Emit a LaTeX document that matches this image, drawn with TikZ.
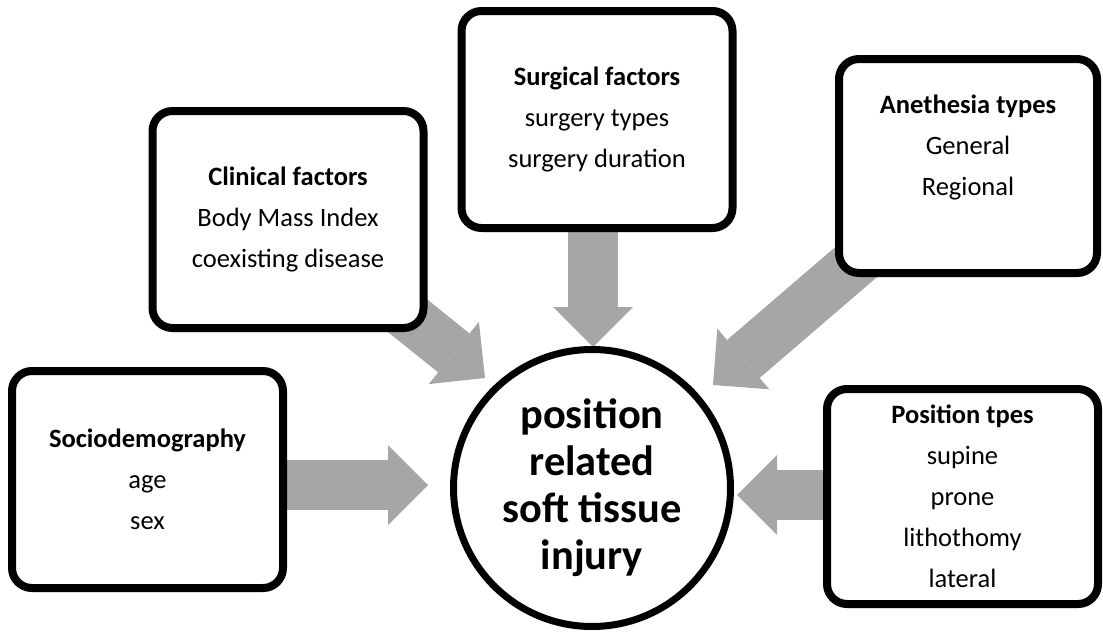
\documentclass[tikz,border=0pt]{standalone}
\usepackage{fontspec}
\setmainfont{Carlito}
\usetikzlibrary{arrows.meta,shadows,backgrounds}

\definecolor{arrowgray}{RGB}{166,166,166}

\begin{document}
\begin{tikzpicture}[x=1pt, y=-1pt,
  factor/.style = {draw, line width=8pt, rounded corners=20pt, fill=white,
    minimum width=271pt, minimum height=217pt, inner sep=0pt, align=center,
    font=\fontsize{26.5}{41}\selectfont,
    drop shadow={shadow xshift=2pt, shadow yshift=-4pt, opacity=0.25}},
  bigarrow/.style = {draw=arrowgray, line width=50pt,
    -{Triangle[width=80pt, length=40pt, line width=0pt]}}]
\useasboundingbox (0,0) rectangle (1103,635);

% the injury in the middle
\node[draw, circle, line width=7pt, minimum size=277pt, inner sep=0pt, fill=white,
  align=center, font=\bfseries\fontsize{42.4}{47}\selectfont]
  (injury) at (592,488) {position\\related\\soft tissue\\injury};

% factor boxes
\node[factor] (socio) at (147.5,479.5) {\textbf{Sociodemography}\\age\\sex};
\node[factor] (clin) at (288,219.5) {\textbf{Clinical factors}\\Body Mass Index\\coexisting disease};
\node[factor] (surg) at (597,119.5) {\textbf{Surgical factors}\\surgery types\\surgery duration};
\node[factor, minimum width=258pt, minimum height=214pt] (anes) at (968,166)
  {\textbf{Anethesia types}\\General\\Regional\\~};
\node[factor, minimum height=215pt] (pos) at (962.5,496.5)
  {\textbf{Position tpes}\\supine\\prone\\lithothomy\\lateral};

% arrow tips
\coordinate (socio tip) at (428,485);
\coordinate (clin tip) at (485,378);
\coordinate (surg tip) at (593,347);
\coordinate (anes tip) at (713,385);
\coordinate (pos tip) at (737,495);

\begin{scope}[on background layer]
\draw[bigarrow] (socio.center |- socio tip) -- (socio tip);
\draw[bigarrow] (clin.center) -- (clin tip);
\draw[bigarrow] (surg.center -| surg tip) -- (surg tip);
\draw[bigarrow] (anes.center) -- (anes tip);
\draw[bigarrow] (pos.center |- pos tip) -- (pos tip);
\end{scope}
\end{tikzpicture}
\end{document}
